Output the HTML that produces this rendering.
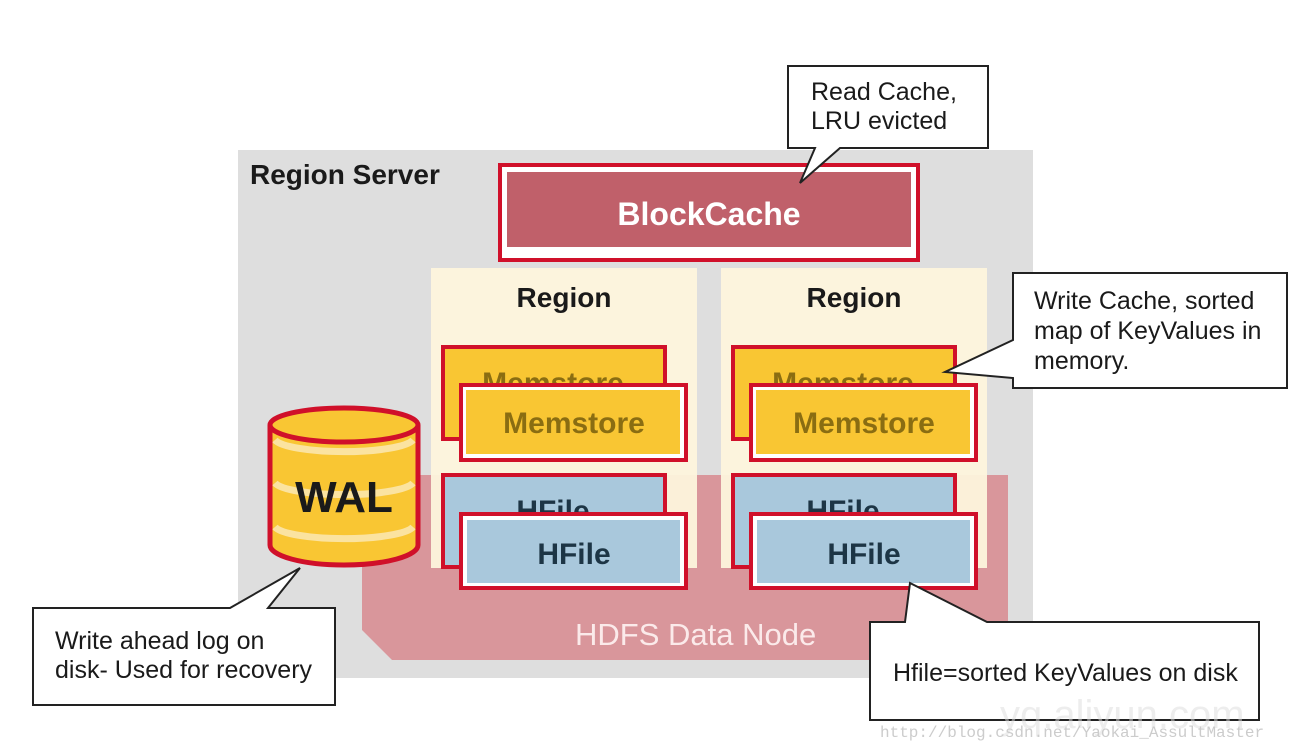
<!DOCTYPE html>
<html><head><style>
body{margin:0;width:1304px;height:750px;background:#fff;overflow:hidden;font-family:"Liberation Sans",Arial,sans-serif}
</style></head><body>
<svg width="1304" height="750" viewBox="0 0 1304 750" xmlns="http://www.w3.org/2000/svg" font-family="Liberation Sans, Arial, sans-serif">
<rect x="238" y="150" width="795" height="528" fill="#dedede"/>
<polygon points="362,475 1008,475 1008,660 392,660 362,630" fill="#d9969b"/>
<text x="575" y="645" font-size="31" fill="#fbeaea">HDFS Data Node</text>
<text x="250" y="184" font-size="28" font-weight="bold" fill="#1a1a1a">Region Server</text>
<!-- BlockCache -->
<rect x="500" y="165" width="418" height="95" fill="#fff" stroke="#d0102a" stroke-width="4"/>
<rect x="507" y="172" width="404" height="75" fill="#c0606a"/>
<text x="709" y="225" font-size="32" font-weight="bold" fill="#fff" text-anchor="middle">BlockCache</text>
<!-- regions -->
<g id="reg">
<rect x="431" y="268" width="266" height="300" fill="#fdf4dc" opacity="0.95"/>
<text x="564" y="307" font-size="28" font-weight="bold" fill="#1a1a1a" text-anchor="middle">Region</text>
<rect x="443" y="347" width="222" height="92" fill="#f9c633" stroke="#d0102a" stroke-width="4"/>
<text x="553" y="393" font-size="30" font-weight="bold" fill="#8a6d12" text-anchor="middle">Memstore</text>
<rect x="461" y="385" width="225" height="75" fill="#fff" stroke="#d0102a" stroke-width="4"/>
<rect x="466" y="390" width="214" height="64" fill="#f9c633"/>
<text x="574" y="433" font-size="30" font-weight="bold" fill="#8a6d12" text-anchor="middle">Memstore</text>
<rect x="443" y="475" width="222" height="92" fill="#a9c8dc" stroke="#d0102a" stroke-width="4"/>
<text x="553" y="521" font-size="30" font-weight="bold" fill="#1d3545" text-anchor="middle">HFile</text>
<rect x="461" y="514" width="225" height="74" fill="#fff" stroke="#d0102a" stroke-width="4"/>
<rect x="467" y="520" width="213" height="63" fill="#a9c8dc"/>
<text x="574" y="564" font-size="30" font-weight="bold" fill="#1d3545" text-anchor="middle">HFile</text>
</g>
<use href="#reg" transform="translate(290,0)"/>
<!-- WAL -->
<path d="M270,425 L270,545 A74,20 0 0 0 418,545 L418,425" fill="#f9c633" stroke="#d0102a" stroke-width="5"/>
<ellipse cx="344" cy="425" rx="74" ry="17" fill="#f9c633" stroke="#d0102a" stroke-width="5"/>
<path d="M275,440 A70,14 0 0 0 413,440 M275,483 A70,14 0 0 0 413,483 M275,527 A70,14 0 0 0 413,527" stroke="#fbe3a0" stroke-width="7" fill="none"/>
<text x="344" y="512" font-size="44" font-weight="bold" fill="#1a1a1a" text-anchor="middle">WAL</text>
<!-- callouts -->
<g fill="#fff" stroke="#222" stroke-width="2">
<path d="M788,66 H988 V148 H840 L800,183 L815,148 H788 Z"/>
<path d="M1013,273 H1287 V388 H1013 V378 L945,372 L1013,340 Z"/>
<path d="M33,608 H230 L300,568 L268,608 H335 V705 H33 Z"/>
<path d="M870,622 H905 L910,583 L987,622 H1259 V720 H870 Z"/>
</g>
<g font-size="25" fill="#1a1a1a">
<text x="811" y="100">Read Cache,</text>
<text x="811" y="129">LRU evicted</text>
<text x="1034" y="309">Write Cache, sorted</text>
<text x="1034" y="339">map of KeyValues in</text>
<text x="1034" y="369">memory.</text>
<text x="55" y="649">Write ahead log on</text>
<text x="55" y="678">disk- Used for recovery</text>
<text x="893" y="681">Hfile=sorted KeyValues on disk</text>
</g>
<text x="1000" y="728" font-size="40" fill="#ddd" opacity="0.5">yq.aliyun.com</text>
<text x="880" y="737" font-size="16" fill="#ccc" font-family="Liberation Mono, monospace">http://blog.csdn.net/Yaokai_AssultMaster</text>
</svg>
</body></html>
